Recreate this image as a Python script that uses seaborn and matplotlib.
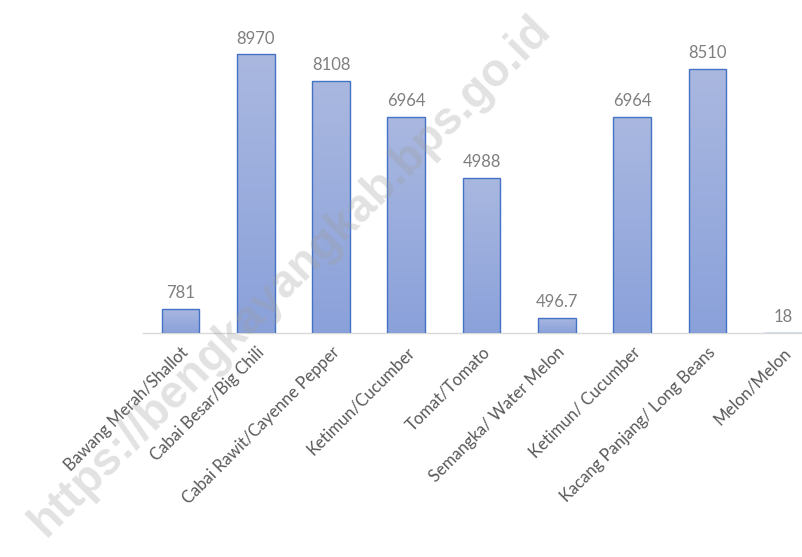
import numpy as np
import pandas as pd
import matplotlib
matplotlib.use("Agg")
import matplotlib.pyplot as plt
import seaborn as sns
from matplotlib.colors import LinearSegmentedColormap

# data
categories = ["Bawang Merah/Shallot", "Cabai Besar/Big Chili", "Cabai Rawit/Cayenne Pepper",
              "Ketimun/Cucumber", "Tomat/Tomato", "Semangka/ Water Melon",
              "Ketimun/ Cucumber", "Kacang Panjang/ Long Beans", "Melon/Melon"]
values = [781, 8970, 8108, 6964, 4988, 496.7, 6964, 8510, 18]
value_labels = ["781", "8970", "8108", "6964", "4988", "496.7", "6964", "8510", "18"]

df = pd.DataFrame({"category": categories, "value": values})

sns.set_theme(style="white")
plt.rcParams['font.family'] = ['Lato', 'DejaVu Sans']

fig = plt.figure(figsize=(8.02, 5.57), dpi=100)
ax = fig.add_axes([0.178, 0.402, 0.845, 0.558])

sns.barplot(data=df, x="category", y="value", color="#9AACDD", width=0.5,
            edgecolor="#4472C4", linewidth=1.0, ax=ax)

# vertical gradient fill inside each bar
cmap = LinearSegmentedColormap.from_list("bar", ["#8AA1DA", "#AAB8E0"])
grad = np.linspace(0, 1, 256).reshape(-1, 1)
for p in ax.patches:
    x0, y0 = p.get_x(), p.get_y()
    w, h = p.get_width(), p.get_height()
    im = ax.imshow(grad, cmap=cmap, origin="lower", aspect="auto",
                   extent=[x0, x0 + w, y0, y0 + h], zorder=p.get_zorder() - 0.1)
    im.set_clip_path(p)
    p.set_facecolor("none")
    p.set_zorder(3)

ax.set_xlim(-0.5, len(categories) - 0.5)
ax.set_ylim(0, 10000)

for i, (v, lab) in enumerate(zip(values, value_labels)):
    ax.text(i, v + 250, lab, ha="center", va="bottom", fontsize=12, color="#7F7F7F")

ax.set_yticks([])
ax.set_xlabel("")
ax.set_ylabel("")
ax.set_xticks(range(len(categories)))
ax.set_xticklabels(categories, rotation=45, ha="right", rotation_mode="anchor",
                   fontsize=12, color="#595959")
ax.tick_params(axis="x", length=0, pad=8)
for s in ["top", "right", "left"]:
    ax.spines[s].set_visible(False)
ax.spines["bottom"].set_color("#D9D9D9")
ax.spines["bottom"].set_linewidth(1.0)

# watermark
fig.text(0.362, 0.505, "https://bengkayangkab.bps.go.id", rotation=45, ha="center", va="center",
         fontsize=33, fontweight="bold", color="#9E9E9E", alpha=0.3, family=['Liberation Sans'])

fig.savefig("out.png", dpi=100)
